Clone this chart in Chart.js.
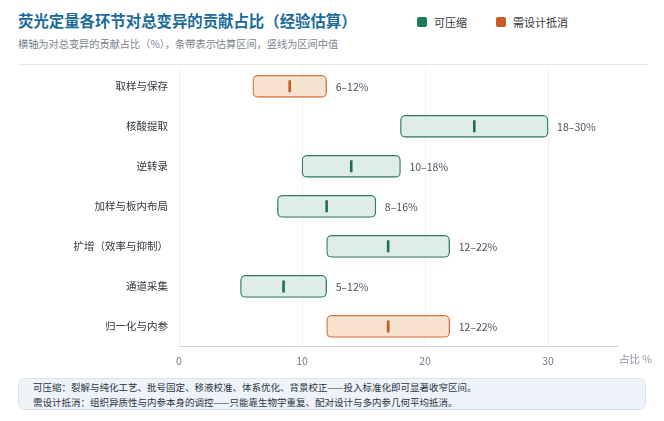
<!DOCTYPE html>
<html><head><meta charset="utf-8">
<script src="https://cdn.jsdelivr.net/npm/chart.js@4.4.1/dist/chart.umd.min.js"></script>
<style>
html,body{margin:0;padding:0;background:#fff;width:664px;height:421px;overflow:hidden;font-family:"Noto Sans CJK SC","Noto Sans",sans-serif;}
#title{position:absolute;left:18px;top:9px;font-size:15.4px;font-weight:bold;color:#1b6a9c;}
#sub{position:absolute;left:18px;top:36px;font-size:10.2px;color:#7a8290;}
.lg{position:absolute;top:14px;font-size:11px;color:#333;display:flex;align-items:center;}
.sw{width:10px;height:10px;border-radius:2px;margin-right:7px;}
#sep{position:absolute;left:18px;top:64px;width:630px;height:1px;background:#e2e8f0;}
#cv{position:absolute;left:0;top:49px;}
#atitle{position:absolute;left:619px;top:351px;font-size:10.5px;color:#8a94a6;}
#foot{position:absolute;z-index:2;left:18px;top:378px;width:628px;height:32px;box-sizing:border-box;border:1px solid #d8e3f1;border-radius:7px;background:#eef3fa;padding:1px 0 0 14px;font-size:9.5px;line-height:14.5px;color:#2a3340;}
</style></head><body>
<div id="title">荧光定量各环节对总变异的贡献占比（经验估算）</div>
<div id="sub">横轴为对总变异的贡献占比（%），条带表示估算区间，竖线为区间中值</div>
<div class="lg" style="left:417px"><div class="sw" style="background:#1f7a5c"></div>可压缩</div>
<div class="lg" style="left:496px"><div class="sw" style="background:#c95a25"></div>需设计抵消</div>
<div id="sep"></div>
<canvas id="cv" width="664" height="326"></canvas>
<div id="atitle">占比 %</div>
<div id="foot">可压缩：裂解与纯化工艺、批号固定、移液校准、体系优化、背景校正——投入标准化即可显著收窄区间。<br>需设计抵消：组织异质性与内参本身的调控——只能靠生物学重复、配对设计与多内参几何平均抵消。</div>
<script>
const categories = ["取样与保存","核酸提取","逆转录","加样与板内布局","扩增（效率与抑制）","通道采集","归一化与内参"];
const lows = [6,18,10,8,12,5,12];
const highs = [12,30,18,16,22,12,22];
const mids = [9,24,14,12,17,8.5,17];
const groups = ["design","comp","comp","comp","comp","comp","design"];
const xTicks = [0,10,20,30];

const pal = {
  comp:{fill:"#dfede7",border:"#2f7d63",mid:"#1f6e55"},
  design:{fill:"#f8e2d0",border:"#d5703c",mid:"#c4561e"}
};

const labelPlugin = {
  id:"rangeLabels",
  afterDatasetsDraw(chart){
    const ctx = chart.ctx;
    const meta = chart.getDatasetMeta(0);
    ctx.save();
    ctx.font = "10.5px 'Noto Sans CJK SC', sans-serif";
    ctx.fillStyle = "#4a5260";
    ctx.textBaseline = "middle";
    meta.data.forEach((bar,i)=>{
      const x = chart.scales.x.getPixelForValue(highs[i]);
      ctx.fillText(lows[i]+"–"+highs[i]+"%", x+9, bar.y+1);
    });
    ctx.restore();
  }
};

new Chart(document.getElementById("cv"),{
  type:"bar",
  data:{
    labels:categories,
    datasets:[
      {
        type:"bar",
        data:categories.map((c,i)=>[lows[i],highs[i]]),
        backgroundColor:groups.map(g=>pal[g].fill),
        borderColor:groups.map(g=>pal[g].border),
        borderWidth:1.3,
        borderRadius:5,
        borderSkipped:false,
        barThickness:22,
        order:2
      },
      {
        type:"line",
        data:categories.map((c,i)=>({x:mids[i],y:c})),
        showLine:false,
        pointStyle:"line",
        rotation:90,
        pointRadius:6,
        pointHoverRadius:6,
        pointBorderWidth:2.6,
        pointBorderColor:groups.map(g=>pal[g].mid),
        pointBackgroundColor:groups.map(g=>pal[g].mid),
        order:1
      }
    ]
  },
  options:{
    indexAxis:"y",
    responsive:false,
    animation:false,
    events:[],
    layout:{padding:{left:0,right:47,top:0,bottom:0}},
    plugins:{legend:{display:false},tooltip:{enabled:false}},
    scales:{
      x:{
        min:0,max:35.6,
        afterBuildTicks(s){ s.ticks = xTicks.map(v=>({value:v})); },
        grid:{color:"#edf1f6",drawTicks:false},
        border:{color:"#c9d4e4",width:1},
        ticks:{color:"#6f7b8f",font:{size:10.5,family:"'Noto Sans CJK SC', sans-serif"},padding:8}
      },
      y:{
        afterFit(s){ s.width = 179; },
        grid:{display:false,drawTicks:false},
        border:{display:false},
        ticks:{color:"#2f3540",font:{size:10.5,family:"'Noto Sans CJK SC', sans-serif"},padding:11}
      }
    }
  },
  plugins:[labelPlugin]
});
</script>
</body></html>
